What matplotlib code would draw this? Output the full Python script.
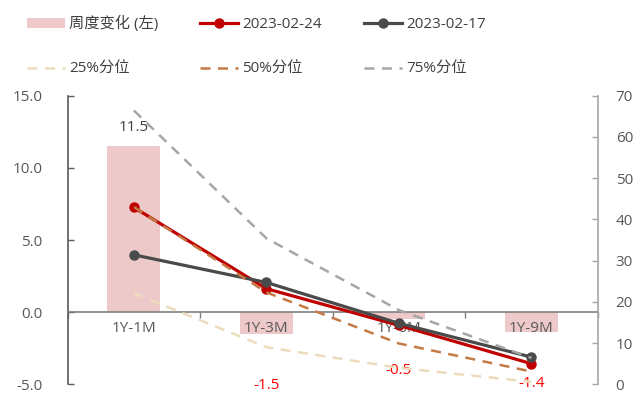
import matplotlib
matplotlib.use("Agg")
import matplotlib.pyplot as plt
import numpy as np

plt.rcParams['font.family'] = ['Open Sans', 'Noto Sans CJK SC', 'DejaVu Sans']

# Data
categories = ['1Y-1M', '1Y-3M', '1Y-6M', '1Y-9M']
weekly_change = [11.5, -1.5, -0.5, -1.4]
spread_0224 = [42.9, 23.2, 14.3, 5.0]
spread_0217 = [31.4, 24.7, 14.8, 6.6]
pct25 = [22.1, 9.0, 4.0, 0.6]
pct50 = [43.0, 22.3, 9.9, 3.1]
pct75 = [66.4, 35.4, 18.0, 6.4]

left_ticks = [-5.0, 0.0, 5.0, 10.0, 15.0]
right_ticks = [0, 10, 20, 30, 40, 50, 60, 70]

text_color = '#595959'
bar_color = '#edc9ca'
red = '#c00000'
dark = '#4a4a4a'
c25 = '#ecdcbd'
c50 = '#c47a45'
c75 = '#a6a6a6'

fig = plt.figure(figsize=(6.43, 3.96), dpi=100)
ax = fig.add_axes([0.1053, 0.0295, 0.8242, 0.7288])
ax2 = ax.twinx()

x = np.arange(len(categories))

bars = ax.bar(x, weekly_change, width=0.4, color=bar_color, zorder=1,
              label='周度变化 (左)')

ax.set_xlim(-0.5, len(categories) - 0.5)
ax.set_ylim(-5, 15)
ax.set_yticks(left_ticks)
ax.set_yticklabels([f'{v:.1f}' for v in left_ticks])
ax2.set_ylim(0, 70)
ax2.set_yticks(right_ticks)

# Bar value labels
for xi, v in zip(x, weekly_change):
    if v >= 0:
        ax.annotate(f'{v:.1f}', (xi, v), xytext=(0, 8), textcoords='offset points',
                    ha='center', va='bottom', color='#404040', fontsize=11)
    else:
        ax.annotate(f'{v:.1f}', (xi, v), xytext=(0, -37), textcoords='offset points',
                    ha='center', va='center', color='#ff0000', fontsize=11)

# Lines on the right axis
l1, = ax2.plot(x, spread_0224, color=red, lw=2.3, marker='o', ms=6.5, zorder=3,
               label='2023-02-24')
l2, = ax2.plot(x, spread_0217, color=dark, lw=2.3, marker='o', ms=6.5, zorder=3,
               label='2023-02-17')
dash = (0, (4, 3))
p25, = ax2.plot(x, pct25, color=c25, lw=1.8, ls=dash, zorder=4, label='25%分位')
p50, = ax2.plot(x, pct50, color=c50, lw=1.8, ls=dash, zorder=4, label='50%分位')
p75, = ax2.plot(x, pct75, color=c75, lw=1.8, ls=dash, zorder=4, label='75%分位')

# Axis styling
for a in (ax, ax2):
    a.spines['top'].set_visible(False)
ax.spines['right'].set_visible(False)
ax2.spines['left'].set_visible(False)
ax2.spines['bottom'].set_visible(False)
ax.spines['left'].set_color(text_color)
ax.spines['left'].set_linewidth(1.2)
ax2.spines['right'].set_color('#a6a6a6')
ax2.spines['right'].set_linewidth(1.2)
ax.spines['bottom'].set_position(('data', 0))
ax.spines['bottom'].set_color('#7f7f7f')
ax.spines['bottom'].set_linewidth(1.2)

ax.tick_params(axis='y', direction='in', length=4, width=1.0, color=text_color,
               labelcolor=text_color, labelsize=11, pad=18)
ax2.tick_params(axis='y', direction='in', length=4, width=1.0, color='#a6a6a6',
                labelcolor=text_color, labelsize=11, pad=13)

ax.set_xticks(x)
ax.set_xticklabels(categories)
ax.set_xticks(np.arange(-0.5, len(categories) - 0.4, 1.0), minor=True)
ax.tick_params(axis='x', which='major', length=0, pad=6, labelcolor=text_color,
               labelsize=11)
ax.tick_params(axis='x', which='minor', direction='out', length=4, width=1.0,
               color='#7f7f7f')

# Legend, filled row by row
handles = [bars, p25, l1, p50, l2, p75]
labels = [h.get_label() for h in handles]
fig.legend(handles, labels, loc='upper left', bbox_to_anchor=(0.02, 0.994),
           ncol=3, frameon=False, fontsize=11, handlelength=2.5,
           handletextpad=0.27, columnspacing=2.75, labelspacing=1.94,
           labelcolor='#404040')

fig.savefig('out.png', dpi=100)
